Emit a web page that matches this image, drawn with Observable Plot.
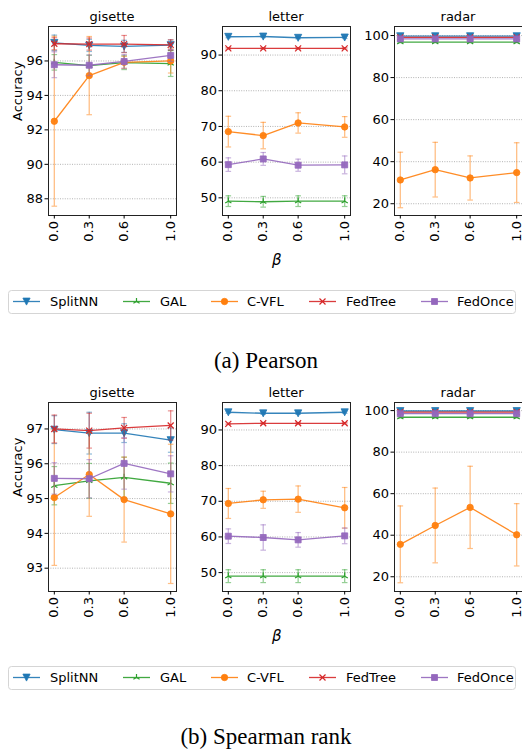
<!DOCTYPE html>
<html>
<head>
<meta charset="utf-8">
<script src="https://cdn.jsdelivr.net/npm/d3@7"></script>
<script src="https://cdn.jsdelivr.net/npm/@observablehq/plot@0.6"></script>
<style>
  html, body { margin: 0; padding: 0; background: #fff; }
  #fig { position: relative; width: 522px; height: 751px; overflow: hidden; font-family: "DejaVu Sans", sans-serif; }
  .pan { position: absolute; }
  .lbl { position: absolute; white-space: nowrap; }
  .ttl { position: absolute; width: 128px; text-align: center; font-family: "DejaVu Sans"; font-size: 13px; line-height: 15px; color: #000; }
  .cap { position: absolute; width: 522px; text-align: center; font-family: "Liberation Serif", "Times New Roman", serif; font-size: 23px; color: #000; }
</style>
</head>
<body>
<div id="fig"></div>
<script>
// ---------- data ----------
const betas = [0.0, 0.3, 0.6, 1.0];
const betaTicks = [0.0, 0.3, 0.6, 1.0];
const methods = ["SplitNN", "GAL", "C-VFL", "FedTree", "FedOnce"];
const colors = ["#1f77b4", "#2ca02c", "#ff7f0e", "#d62728", "#9467bd"];
const datasets = ["gisette", "letter", "radar"];
const captions = ["(a) Pearson", "(b) Spearman rank"];

// Pearson — rows follow `methods`, columns follow `betas`
const pearsonGisetteMean = [
  [97.05, 96.90, 96.85, 96.92],
  [95.92, 95.73, 95.90, 95.85],
  [92.50, 95.15, 95.92, 96.00],
  [97.00, 96.98, 96.98, 96.93],
  [95.78, 95.75, 95.97, 96.32]
];
const pearsonGisetteErr = [
  [0.45, 0.35, 0.35, 0.30],
  [0.45, 0.60, 0.40, 0.75],
  [4.93, 2.27, 0.35, 0.70],
  [0.35, 0.35, 0.50, 0.30],
  [0.75, 0.60, 0.40, 0.35]
];
const pearsonLetterMean = [
  [95.13, 95.20, 94.85, 94.94],
  [49.07, 48.90, 49.07, 49.07],
  [68.55, 67.44, 70.98, 69.86],
  [91.86, 91.86, 91.86, 91.86],
  [59.30, 60.90, 59.14, 59.23]
];
const pearsonLetterErr = [
  [0.30, 0.30, 0.30, 0.30],
  [1.50, 1.50, 1.50, 1.50],
  [4.30, 3.70, 2.85, 2.90],
  [0.20, 0.20, 0.20, 0.20],
  [1.90, 1.80, 1.70, 2.50]
];
const pearsonRadarMean = [
  [99.70, 99.70, 99.70, 99.70],
  [96.90, 96.90, 96.90, 96.90],
  [31.30, 36.20, 32.25, 34.80],
  [99.10, 99.10, 99.10, 99.10],
  [98.40, 98.40, 98.40, 98.40]
];
const pearsonRadarErr = [
  [0.30, 0.30, 0.30, 0.30],
  [0.30, 0.30, 0.30, 0.30],
  [13.2, 13.0, 10.5, 14.2],
  [0.30, 0.30, 0.30, 0.30],
  [0.50, 0.50, 0.50, 0.50]
];

// Spearman rank
const spearmanGisetteMean = [
  [96.98, 96.88, 96.88, 96.68],
  [95.37, 95.51, 95.61, 95.44],
  [95.03, 95.69, 94.97, 94.56],
  [97.00, 96.95, 97.03, 97.10],
  [95.58, 95.57, 96.01, 95.71]
];
const spearmanGisetteErr = [
  [0.40, 0.60, 0.27, 0.35],
  [0.55, 0.50, 0.58, 0.58],
  [1.95, 1.20, 1.22, 2.00],
  [0.40, 0.50, 0.30, 0.42],
  [0.45, 0.55, 0.74, 0.52]
];
const spearmanLetterMean = [
  [94.97, 94.68, 94.68, 94.97],
  [49.00, 49.00, 49.00, 49.00],
  [69.39, 70.42, 70.60, 68.17],
  [91.70, 91.87, 91.87, 91.87],
  [60.21, 59.84, 59.18, 60.30]
];
const spearmanLetterErr = [
  [0.30, 0.30, 0.30, 0.30],
  [1.80, 1.80, 1.80, 1.80],
  [4.20, 2.40, 3.70, 5.70],
  [0.20, 0.20, 0.20, 0.20],
  [2.05, 3.55, 2.05, 2.20]
];
const spearmanRadarMean = [
  [99.80, 99.80, 99.80, 99.80],
  [96.80, 96.80, 96.80, 96.80],
  [35.60, 44.70, 53.40, 40.20],
  [99.30, 99.30, 99.30, 99.30],
  [98.50, 98.50, 98.50, 98.50]
];
const spearmanRadarErr = [
  [0.30, 0.30, 0.30, 0.30],
  [0.30, 0.30, 0.30, 0.30],
  [18.5, 18.0, 19.8, 15.0],
  [0.30, 0.30, 0.30, 0.30],
  [0.50, 0.50, 0.50, 0.50]
];

// axis ticks
const gisetteTicksA = [88, 90, 92, 94, 96];
const gisetteTicksB = [93, 94, 95, 96, 97];
const letterTicks = [50, 60, 70, 80, 90];
const radarTicks = [20, 40, 60, 80, 100];

// ---------- symbols ----------
const rad = size => Math.sqrt(size / Math.PI);
const symCap = { draw(c, s) { const r = rad(s); c.moveTo(-r, 0); c.lineTo(r, 0); } };
const symTriDown = { draw(c, s) { const r = rad(s); c.moveTo(0, r); c.lineTo(-r, -r * 0.95); c.lineTo(r, -r * 0.95); c.closePath(); } };
const symTriUp = { draw(c, s) { const r = rad(s); c.moveTo(0, 0); c.lineTo(0, -r); c.moveTo(0, 0); c.lineTo(-0.866 * r, 0.5 * r); c.moveTo(0, 0); c.lineTo(0.866 * r, 0.5 * r); } };
const symCircle = { draw(c, s) { const r = rad(s); c.moveTo(r, 0); c.arc(0, 0, r, 0, 2 * Math.PI); } };
const symX = { draw(c, s) { const r = rad(s); c.moveTo(-r, -r); c.lineTo(r, r); c.moveTo(-r, r); c.lineTo(r, -r); } };
const symSquare = { draw(c, s) { const r = rad(s); c.rect(-r, -r, 2 * r, 2 * r); } };
const markerSyms = [symTriDown, symTriUp, symCircle, symX, symSquare];
const markerR = [3.6, 3.6, 3.2, 3.0, 3.0];
const markerFilled = [true, false, true, false, true];

// ---------- layout ----------
const fig = document.getElementById("fig");
const frameLefts = [48, 222, 394];
const frameW = 128;
const frameH = 189;
const mL = 40, mR = 2, mT = 26, mB = 50;
const rowTops = [0, 376];

function panel(left, top, title, yDomain, yTicks, means, errs, showYLabel) {
  const marks = [];
  marks.push(Plot.gridY(yTicks, { stroke: "#a0a0a0", strokeOpacity: 1, strokeWidth: 0.8, strokeDasharray: "1,1.4" }));
  methods.forEach((m, i) => {
    const rows = betas.map((b, j) => ({ x: b, y: means[i][j], e: errs[i][j] }));
    const col = colors[i];
    marks.push(Plot.ruleX(rows, { x: "x", y1: d => d.y - d.e, y2: d => d.y + d.e, stroke: col, strokeOpacity: 0.5, strokeWidth: 1.3 }));
    marks.push(Plot.dot(rows, { x: "x", y: d => d.y + d.e, symbol: symCap, r: 2.8, stroke: col, strokeOpacity: 0.5, strokeWidth: 1.2, fill: "none" }));
    marks.push(Plot.dot(rows, { x: "x", y: d => d.y - d.e, symbol: symCap, r: 2.8, stroke: col, strokeOpacity: 0.5, strokeWidth: 1.2, fill: "none" }));
    marks.push(Plot.line(rows, { x: "x", y: "y", stroke: col, strokeWidth: 1.3, strokeOpacity: 0.9 }));
    marks.push(Plot.dot(rows, {
      x: "x", y: "y", symbol: markerSyms[i], r: markerR[i],
      fill: markerFilled[i] ? col : "none", stroke: col, strokeWidth: markerFilled[i] ? 0.8 : 1.2, fillOpacity: 0.95
    }));
  });
  marks.push(Plot.frame({ stroke: "#222", strokeWidth: 1 }));
  marks.push(Plot.axisX({ ticks: betaTicks, tickFormat: d3.format(".1f"), tickRotate: -90, tickSize: 3.5, tickPadding: 2, label: null, fill: "#000" }));
  marks.push(Plot.axisY({ ticks: yTicks, tickFormat: d3.format("d"), tickSize: 3.5, tickPadding: 2, label: null, fill: "#000" }));
  if (showYLabel) marks.push(Plot.text(["Accuracy"], { frameAnchor: "left", dx: -31, rotate: -90, fontSize: 13, fill: "#000" }));
  const p = Plot.plot({
    width: mL + frameW + mR, height: mT + frameH + mB,
    marginLeft: mL, marginRight: mR, marginTop: mT, marginBottom: mB,
    style: { fontFamily: "DejaVu Sans", fontSize: "13px", color: "#000", background: "transparent", overflow: "visible" },
    x: { domain: [-0.05, 1.05] },
    y: { domain: yDomain },
    marks
  });
  p.classList.add("pan");
  p.style.left = (left - mL) + "px";
  p.style.top = top + "px";
  fig.appendChild(p);
  // panel title
  const t = document.createElement("div");
  t.className = "ttl";
  t.style.left = left + "px";
  t.style.top = (top + mT - 17) + "px";
  t.textContent = title;
  fig.appendChild(t);
}

const rowsSpec = [
  { top: rowTops[0], domains: [[87.03, 98.0], [45.05, 98.0], [14.4, 104.3]], ticks: [gisetteTicksA, letterTicks, radarTicks],
    means: [pearsonGisetteMean, pearsonLetterMean, pearsonRadarMean], errs: [pearsonGisetteErr, pearsonLetterErr, pearsonRadarErr] },
  { top: rowTops[1], domains: [[92.33, 97.76], [44.7, 97.7], [12.9, 103.9]], ticks: [gisetteTicksB, letterTicks, radarTicks],
    means: [spearmanGisetteMean, spearmanLetterMean, spearmanRadarMean], errs: [spearmanGisetteErr, spearmanLetterErr, spearmanRadarErr] }
];

rowsSpec.forEach((r, ri) => {
  datasets.forEach((ds, k) => {
    panel(frameLefts[k], r.top, ds, r.domains[k], r.ticks[k], r.means[k], r.errs[k], k === 0);
  });
  // beta label
  const b = document.createElement("div");
  b.className = "lbl";
  b.style.cssText = `left:${272}px; top:${r.top + 251}px; font-size:15px; font-style:italic; font-family:'DejaVu Sans';`;
  b.textContent = "β";
  fig.appendChild(b);
  // legend
  const legTop = r.top + 290;
  const lw = 508, lh = 24;
  const leg = d3.create("svg").attr("width", lw).attr("height", lh)
    .style("position", "absolute").style("left", "8px").style("top", legTop + "px").style("overflow", "visible");
  leg.append("rect").attr("x", 0.5).attr("y", 0.5).attr("width", lw - 1).attr("height", lh - 1).attr("rx", 3)
    .attr("fill", "#fff").attr("stroke", "#d5d5d5").attr("stroke-width", 1);
  const hx = [5, 115, 203, 301, 413];
  const tx = [42, 152, 239, 338, 449];
  const cy = 11.5;
  methods.forEach((m, i) => {
    const g = leg.append("g");
    g.append("line").attr("x1", hx[i]).attr("x2", hx[i] + 27).attr("y1", cy).attr("y2", cy)
      .attr("stroke", colors[i]).attr("stroke-width", 1.3).attr("stroke-opacity", 0.9);
    const path = d3.path();
    const rr = markerR[i];
    markerSyms[i].draw(path, rr * rr * Math.PI);
    g.append("path").attr("d", path.toString()).attr("transform", `translate(${hx[i] + 13.5},${cy})`)
      .attr("fill", markerFilled[i] ? colors[i] : "none").attr("stroke", colors[i])
      .attr("stroke-width", markerFilled[i] ? 0.8 : 1.2);
    g.append("text").attr("x", tx[i]).attr("y", cy).attr("dy", "0.35em")
      .attr("font-family", "DejaVu Sans").attr("font-size", 13).attr("fill", "#000").text(m);
  });
  fig.appendChild(leg.node());
  // caption
  const c = document.createElement("div");
  c.className = "cap";
  c.style.top = (r.top + 348) + "px";
  c.style.left = "5px";
  c.textContent = captions[ri];
  fig.appendChild(c);
});
</script>
</body>
</html>
